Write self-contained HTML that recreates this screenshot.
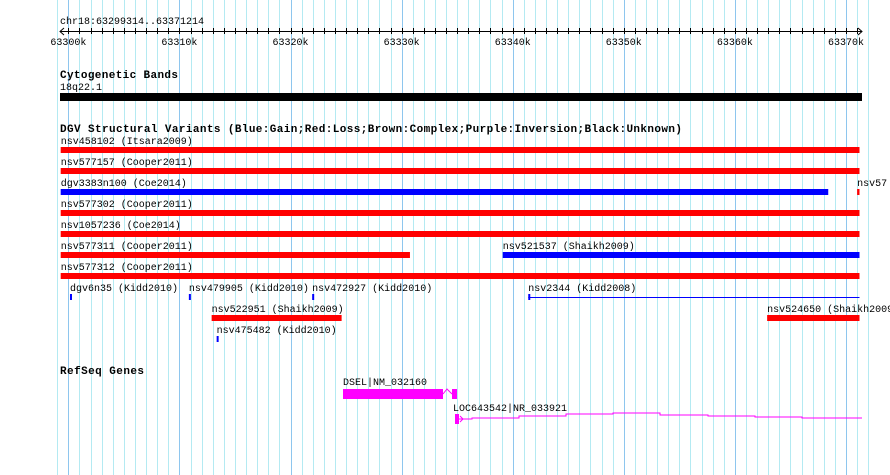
<!DOCTYPE html>
<html><head><meta charset="utf-8"><style>
html,body{margin:0;padding:0;background:#fff}
svg{display:block}
text{font-family:"Liberation Mono",monospace;font-size:10px;fill:#000}
.b{font-weight:bold;font-size:11px}
</style></head><body>
<svg id="chart" width="890" height="475" viewBox="0 0 890 475" xmlns="http://www.w3.org/2000/svg">
<g id="grid"></g>
<g id="axis"></g>
<g id="tracks"></g>
</svg>
<script>
const viewStart = 63299314, viewEnd = 63371214;
const tickLabels = ["63300k","63310k","63320k","63330k","63340k","63350k","63360k","63370k"];
const majorTicks = [63300000,63310000,63320000,63330000,63340000,63350000,63360000,63370000];
// features: [name, start, end, type, labelX-start, row]
const featNames = ["nsv458102 (Itsara2009)","nsv577157 (Cooper2011)","dgv3383n100 (Coe2014)","nsv57","nsv577302 (Cooper2011)","nsv1057236 (Coe2014)","nsv577311 (Cooper2011)","nsv521537 (Shaikh2009)","nsv577312 (Cooper2011)","dgv6n35 (Kidd2010)","nsv479905 (Kidd2010)","nsv472927 (Kidd2010)","nsv2344 (Kidd2008)","nsv522951 (Shaikh2009)","nsv524650 (Shaikh2009)","nsv475482 (Kidd2010)"];
const featStarts = [63299314,63299314,63299314,63371000,63299314,63299314,63299314,63339100,63299314,63300150,63310850,63321950,63341400,63312900,63362900,63313350];
const featEnds   = [63371214,63371214,63368400,63371214,63371214,63371214,63330750,63371214,63371214,63300250,63310950,63322050,63371214,63324600,63371214,63313450];
const featTypes  = ["loss","loss","gain","loss","loss","loss","loss","gain","loss","gain","gain","gain","gainline","loss","loss","gain"];
const featRows   = [0,1,2,2,3,4,5,5,6,7,7,7,7,8,8,9];
const geneNames = ["DSEL|NM_032160","LOC643542|NR_033921"];

const NS="http://www.w3.org/2000/svg";
const X0=60.7, X1=859.5;
function xs(bp){return X0+(bp-viewStart)*(X1-X0)/(viewEnd-viewStart);}
function mk(tag,attrs,parent){const e=document.createElementNS(NS,tag);for(const k in attrs)e.setAttribute(k,attrs[k]);parent.appendChild(e);return e;}
const grid=document.getElementById('grid'), axis=document.getElementById('axis'), tracks=document.getElementById('tracks');

for(let k=63299000;k<=63372000;k+=1000){
  const x=Math.round(xs(k))+0.5; if(x<0||x>890)continue;
  const major=k%10000===0;
  const l=mk('line',{x1:x,x2:x,y1:0,y2:475,stroke:major?'#8ec6ee':'#b4eaf2','stroke-width':1},grid);
  
  
  if(k>=viewStart&&k<=viewEnd){
    const t=mk('line',{x1:x,x2:x,y1:28,y2:34,stroke:'#000'},axis);
    
    
  }
}
let al=mk('line',{x1:60,x2:862,y1:31.5,y2:31.5,stroke:'#000'},axis);

mk('polyline',{points:'64,28 60,31.5 64,35',fill:'none',stroke:'#000'},axis);
mk('polyline',{points:'858,28 862,31.5 858,35',fill:'none',stroke:'#000'},axis);
let rl=mk('text',{x:60,y:24},axis);rl.textContent='chr18:63299314..63371214';

majorTicks.forEach((m,i)=>{const t=mk('text',{x:xs(m),y:45,'text-anchor':'middle'},axis);t.textContent=tickLabels[i];
  });

let t1=mk('text',{x:60,y:78,class:'b',textLength:118},tracks);t1.textContent='Cytogenetic Bands';

let t2=mk('text',{x:60,y:90},tracks);t2.textContent='18q22.1';

let cb=mk('rect',{x:60,y:93,width:802,height:8,fill:'#000'},tracks);

let t3=mk('text',{x:60,y:132,class:'b',textLength:622},tracks);t3.textContent='DGV Structural Variants (Blue:Gain;Red:Loss;Brown:Complex;Purple:Inversion;Black:Unknown)';


featNames.forEach((n,i)=>{
  const row=featRows[i], ly=144+row*21, by=147+row*21;
  const x1=Math.max(60,xs(featStarts[i])), x2=Math.min(862,xs(featEnds[i]));
  const col=featTypes[i]==='loss'?'#ff0000':'#0000ff';
  const tx=mk('text',{x:x1,y:ly},tracks);tx.textContent=n;
  
  let r;
  if(featTypes[i]==='gainline'){
    r=mk('rect',{x:x1,y:by+3,width:x2-x1,height:1,fill:col},tracks);
    mk('rect',{x:x1,y:by,width:2,height:6,fill:col},tracks);
  } else r=mk('rect',{x:x1,y:by,width:Math.max(2,x2-x1),height:6,fill:col},tracks);
  
  
});

let t4=mk('text',{x:60,y:374,class:'b',textLength:84},tracks);t4.textContent='RefSeq Genes';

let g1=mk('text',{x:343,y:385},tracks);g1.textContent=geneNames[0];

let e1=mk('rect',{x:343,y:389,width:100,height:10,fill:'#ff00ff'},tracks);

mk('polyline',{points:'443,394 447,389 452,394',fill:'none',stroke:'#ff00ff'},tracks);
mk('rect',{x:452,y:389,width:5,height:10,fill:'#ff00ff'},tracks);
let g2=mk('text',{x:453,y:411},tracks);g2.textContent=geneNames[1];

let e2=mk('rect',{x:455,y:414,width:4,height:10,fill:'#ff00ff'},tracks);

let il=mk('polyline',{points:'459,419 472,419 472,418 519,418 519,416 566,416 566,414 613,414 613,413 660,413 660,415 708,415 708,416 755,416 755,417 802,417 802,418 825,418 862,418',fill:'none',stroke:'#ff00ff'},tracks);

mk('polyline',{points:'460,416 463,419 460,422',fill:'none',stroke:'#ff00ff'},tracks);
</script>
</body></html>
